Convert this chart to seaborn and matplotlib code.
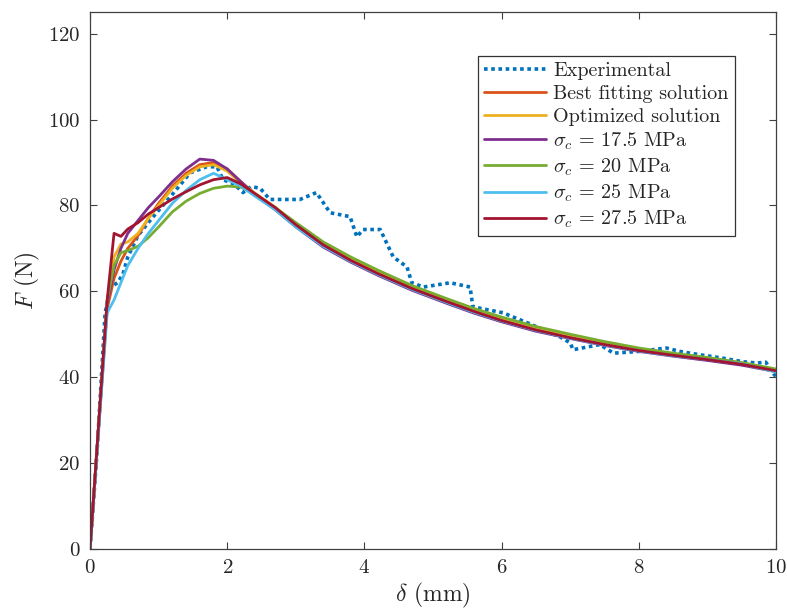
import numpy as np
import pandas as pd
import matplotlib
matplotlib.use('Agg')
import matplotlib.pyplot as plt
import seaborn as sns

# experimental curve
delta_exp = [0, 0.1, 0.22, 0.3, 0.4, 0.48, 0.55, 0.7, 0.9, 1.17, 1.46, 1.7, 1.85, 1.94,
             2.1, 2.23, 2.35, 2.48, 2.62, 2.82, 3.06, 3.3, 3.5, 3.79, 3.89, 3.98, 4.23,
             4.42, 4.62, 4.69, 4.86, 5.25, 5.54, 5.58, 6.02, 6.4, 6.85, 7.0, 7.04, 7.43,
             7.63, 8.0, 8.4, 8.6, 8.9, 9.2, 9.52, 9.72, 9.85, 10.0]
force_exp = [0, 22, 55, 61, 62, 64, 68, 73, 77, 82, 87.6, 89, 89, 86,
             85, 83, 84.4, 84, 81.4, 81.4, 81.4, 83, 78.3, 77.4, 72.7, 74.4, 74.4,
             68, 65.7, 62, 61, 62, 61, 56.4, 55, 52.5, 49.4, 48, 46.4, 47.6,
             45.6, 46, 46.8, 46, 45.2, 44.5, 43.6, 43.3, 43.5, 40]

# numerical curves
delta_num = [0, 0.25, 0.35, 0.45, 0.55, 0.7, 0.85, 1.0, 1.2, 1.4, 1.6, 1.8, 2.0, 2.2,
             2.4, 2.7, 3.0, 3.4, 3.8, 4.2, 4.7, 5.2, 5.6, 6.0, 6.5, 7.0, 7.5, 8.0,
             8.5, 9.0, 9.5, 10.0]
force_best = [0, 56, 63, 67, 70, 73, 77, 80.5, 84.5, 87.5, 89.5, 90, 88.5, 85.5,
              82.8, 79.3, 75.4, 70.9, 67.3, 64.2, 60.7, 57.7, 55.4, 53.4, 51.2, 49.3,
              47.7, 46.3, 45.2, 44.3, 43.1, 41.6]
force_opt = [0, 57, 68, 71, 71.5, 73.5, 77, 80, 84, 87, 89, 89.5, 88, 85.2,
             82.9, 79.6, 75.6, 71.1, 67.5, 64.4, 60.9, 57.9, 55.6, 53.5, 51.3, 49.5,
             47.9, 46.5, 45.4, 44.4, 43.3, 41.8]
force_175 = [0, 57, 65, 70, 73.5, 76.5, 79.5, 82, 85.5, 88.5, 90.8, 90.5, 88.5, 85.5,
             82.5, 79, 75, 70.3, 66.8, 63.7, 60.2, 57.2, 54.9, 52.9, 50.7, 49.0,
             47.4, 46.0, 44.9, 43.9, 42.8, 41.3]
force_20 = [0, 58, 66, 69, 69.5, 70.5, 72.5, 75, 78.5, 81, 82.8, 84, 84.5, 84.3,
            82.5, 79.5, 76, 71.5, 68, 64.9, 61.3, 58.3, 56, 54, 51.8, 50,
            48.3, 46.8, 45.6, 44.6, 43.4, 41.9]
force_25 = [0, 55, 58, 62, 66, 70, 73.5, 76.5, 80.5, 83.5, 86, 87.5, 86, 84.5,
            82.2, 79, 75, 70.5, 67, 63.9, 60.4, 57.4, 55.1, 53.1, 50.9, 49.1,
            47.5, 46.1, 45, 44.1, 43.1, 41.2]
force_275 = [0, 58, 73.5, 72.8, 74.5, 76, 78, 79.5, 81.5, 83.2, 84.8, 86, 86.5, 85,
             82.8, 79.5, 75.5, 70.8, 67.2, 64.1, 60.6, 57.6, 55.3, 53.2, 51.0, 49.2,
             47.6, 46.2, 45.1, 44.1, 43.0, 41.5]

labels = ['Best fitting solution', 'Optimized solution',
          r'$\sigma_c$ = 17.5 MPa', r'$\sigma_c$ = 20 MPa',
          r'$\sigma_c$ = 25 MPa', r'$\sigma_c$ = 27.5 MPa']
num_series = [force_best, force_opt, force_175, force_20, force_25, force_275]
colors = ['#D95319', '#EDB120', '#7E2F8E', '#77AC30', '#4DBEEE', '#A2142F']

sns.set_style('ticks')
plt.rcParams['font.family'] = 'serif'
plt.rcParams['font.serif'] = ['cmr10', 'DejaVu Serif']
plt.rcParams['mathtext.fontset'] = 'cm'
plt.rcParams['axes.formatter.use_mathtext'] = True

fig = plt.figure(figsize=(7.87, 6.12), dpi=100)
ax = fig.add_axes([0.1144, 0.103, 0.8717, 0.877])

sns.lineplot(x=delta_exp, y=force_exp, ax=ax, color='#0072BD', lw=2.6,
             linestyle=(0, (1, 1)), label='Experimental', sort=False)
for f, lab, c in zip(num_series, labels, colors):
    sns.lineplot(x=delta_num, y=f, ax=ax, color=c, lw=2, label=lab, sort=False)

ax.set_xlim(0, 10)
ax.set_ylim(0, 125)
ax.set_xticks(range(0, 11, 2))
ax.set_yticks(range(0, 121, 20))
ax.tick_params(direction='in', top=True, right=True, labelsize=15, length=5,
               color='0.25', pad=7)
for s in ax.spines.values():
    s.set_color('0.25')
    s.set_linewidth(0.9)
ax.set_xlabel(r'$\delta$ (mm)', fontsize=17, labelpad=3)
ax.set_ylabel(r'$F$ (N)', fontsize=17, labelpad=4)

leg = ax.legend(loc='upper right', bbox_to_anchor=(0.94, 0.918), fontsize=14.5,
                frameon=True, fancybox=False, framealpha=1, edgecolor='0.2',
                handlelength=3.1, handletextpad=0.35, labelspacing=0.23,
                borderpad=0.3, borderaxespad=0)
leg.get_frame().set_linewidth(0.9)

fig.savefig('out.png', dpi=100)
